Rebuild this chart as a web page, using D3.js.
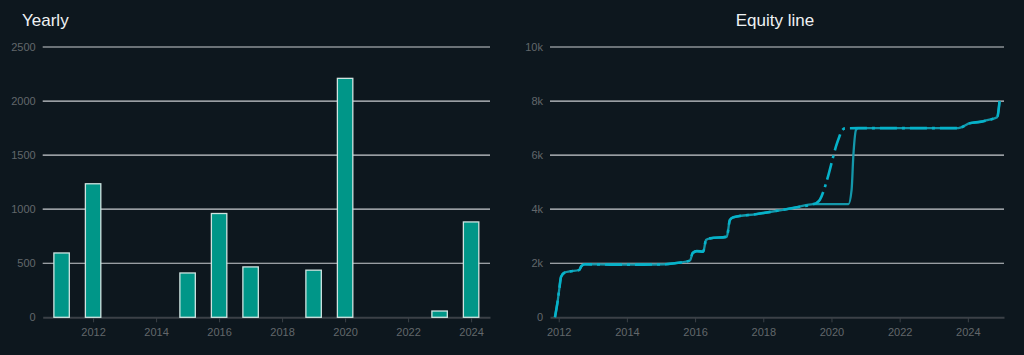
<!DOCTYPE html>
<html>
<head>
<meta charset="utf-8">
<script src="https://cdn.jsdelivr.net/npm/d3@7"></script>
<style>
  html, body { margin: 0; padding: 0; background: #0d171e; }
  svg { display: block; font-family: "Liberation Sans", Arial, sans-serif; }
</style>
</head>
<body>
<svg id="chart" width="1024" height="355"></svg>
<script>
// ---- Yearly bar chart data ----
const barYears = [2011, 2012, 2015, 2016, 2017, 2019, 2020, 2023, 2024];
const barValues = [595, 1235, 410, 960, 466, 436, 2210, 58, 882];
const barYTicks = [0, 500, 1000, 1500, 2000, 2500];
const barXTicks = [2012, 2014, 2016, 2018, 2020, 2022, 2024];

// ---- Equity line data (decimal year, value) ----
const solidDates = [2011.89, 2011.97, 2012.02, 2012.07, 2012.18, 2012.33, 2012.60, 2012.67, 2012.77, 2013.5, 2014.5, 2015.1, 2015.4, 2015.85, 2015.93, 2016.05, 2016.24, 2016.32, 2016.44, 2016.93, 2017.02, 2017.12, 2017.81, 2018.98, 2019.47, 2020.50, 2020.59, 2020.64, 2020.72, 2020.79, 2021.5, 2022.5, 2023.72, 2024.06, 2024.35, 2024.60, 2024.86, 2024.93];
const solidValues = [0, 600, 1070, 1500, 1660, 1700, 1750, 1900, 1960, 1950, 1950, 1960, 2000, 2100, 2380, 2450, 2430, 2860, 2920, 2980, 3600, 3700, 3820, 4070, 4190, 4190, 4710, 5940, 6930, 7000, 7000, 7000, 7000, 7180, 7230, 7300, 7400, 8000];
const dashDates = [2011.89, 2011.97, 2012.02, 2012.07, 2012.18, 2012.33, 2012.60, 2012.67, 2012.77, 2013.5, 2014.5, 2015.1, 2015.4, 2015.85, 2015.93, 2016.05, 2016.24, 2016.32, 2016.44, 2016.93, 2017.02, 2017.12, 2017.81, 2018.98, 2019.47, 2019.57, 2019.66, 2019.81, 2019.91, 2020.05, 2020.13, 2020.23, 2020.30, 2020.40, 2020.79, 2021.5, 2022.5, 2023.72, 2024.06, 2024.35, 2024.60, 2024.86, 2024.93];
const dashValues = [0, 600, 1070, 1500, 1660, 1700, 1750, 1900, 1960, 1950, 1950, 1960, 2000, 2100, 2380, 2450, 2430, 2860, 2920, 2980, 3600, 3700, 3820, 4070, 4190, 4240, 4350, 4830, 5260, 5940, 6310, 6680, 6900, 6990, 7000, 7000, 7000, 7000, 7180, 7230, 7300, 7400, 8000];
const eqYTicks = [0, 2000, 4000, 6000, 8000, 10000];
const eqXTicks = [2012, 2014, 2016, 2018, 2020, 2022, 2024];

const svg = d3.select("#chart");
const gridColor = "#c9cdd0";
const zeroColor = "#3b4147";
const tickTextColor = "#62676b";

// ================= LEFT: Yearly =================
const xL = d3.scaleLinear().domain([2010.4, 2024.6]).range([42.7, 490]);
const yL = d3.scaleLinear().domain([0, 2500]).range([317.3, 47]);

svg.append("text").attr("x", 22).attr("y", 26).attr("fill", "#eef1f3")
  .attr("font-size", 17).text("Yearly");

const gL = svg.append("g");
gL.selectAll("line.grid").data(barYTicks.filter(d => d > 0)).join("line")
  .attr("x1", xL.range()[0]).attr("x2", xL.range()[1])
  .attr("y1", d => yL(d)).attr("y2", d => yL(d))
  .attr("stroke", gridColor).attr("stroke-width", 1.2);

const axL = gL.append("g").attr("transform", `translate(0,${yL(0)})`)
  .call(d3.axisBottom(xL).tickValues(barXTicks).tickFormat(d3.format("d")).tickSize(5).tickSizeOuter(0));
axL.select(".domain").attr("stroke", zeroColor).attr("stroke-width", 2);
axL.selectAll(".tick line").attr("stroke", zeroColor);
axL.selectAll(".tick text").attr("fill", tickTextColor).attr("font-size", 11).attr("dy", "1.0em")
  .attr("font-family", "Liberation Sans, Arial, sans-serif");

const ayL = gL.append("g").attr("transform", `translate(${xL.range()[0]},0)`)
  .call(d3.axisLeft(yL).tickValues(barYTicks).tickFormat(d3.format("d")).tickSize(0).tickPadding(7));
ayL.select(".domain").remove();
ayL.selectAll(".tick text").attr("fill", tickTextColor).attr("font-size", 11)
  .attr("font-family", "Liberation Sans, Arial, sans-serif");

const barW = xL(2011.49) - xL(2011);
gL.selectAll("rect.bar").data(barYears.map((y, i) => ({year: y, value: barValues[i]}))).join("rect")
  .attr("x", d => xL(d.year) - barW / 2)
  .attr("width", barW)
  .attr("y", d => yL(d.value))
  .attr("height", d => yL(0) - yL(d.value))
  .attr("fill", "#009688")
  .attr("stroke", "#cfe3e0")
  .attr("stroke-width", 1.3);

// ================= RIGHT: Equity line =================
const xR = d3.scaleLinear().domain([2011.745, 2025.06]).range([550, 1004]);
const yR = d3.scaleLinear().domain([0, 10000]).range([317.3, 47]);

svg.append("text").attr("x", 775).attr("y", 26).attr("fill", "#eef1f3")
  .attr("font-size", 17).attr("text-anchor", "middle").text("Equity line");

const gR = svg.append("g");
gR.selectAll("line.grid").data(eqYTicks.filter(d => d > 0)).join("line")
  .attr("x1", xR.range()[0]).attr("x2", xR.range()[1])
  .attr("y1", d => yR(d)).attr("y2", d => yR(d))
  .attr("stroke", gridColor).attr("stroke-width", 1.2);

const axR = gR.append("g").attr("transform", `translate(0,${yR(0)})`)
  .call(d3.axisBottom(xR).tickValues(eqXTicks).tickFormat(d3.format("d")).tickSize(5).tickSizeOuter(0));
axR.select(".domain").attr("stroke", zeroColor).attr("stroke-width", 2);
axR.selectAll(".tick line").attr("stroke", zeroColor);
axR.selectAll(".tick text").attr("fill", tickTextColor).attr("font-size", 11).attr("dy", "1.0em")
  .attr("font-family", "Liberation Sans, Arial, sans-serif");

const ayR = gR.append("g").attr("transform", `translate(${xR.range()[0]},0)`)
  .call(d3.axisLeft(yR).tickValues(eqYTicks).tickFormat(d => d === 0 ? "0" : (d / 1000) + "k").tickSize(0).tickPadding(7));
ayR.select(".domain").remove();
ayR.selectAll(".tick text").attr("fill", tickTextColor).attr("font-size", 11)
  .attr("font-family", "Liberation Sans, Arial, sans-serif");

const lineGen = d3.line().x(d => xR(d[0])).y(d => yR(d[1])).curve(d3.curveMonotoneX);
const solidData = solidDates.map((d, i) => [d, solidValues[i]]);
const dashData = dashDates.map((d, i) => [d, dashValues[i]]);

gR.append("path").datum(solidData).attr("d", lineGen)
  .attr("fill", "none").attr("stroke", "#1497aa").attr("stroke-width", 2.3)
  .attr("stroke-linejoin", "round");
gR.append("path").datum(dashData).attr("d", lineGen)
  .attr("fill", "none").attr("stroke", "#06b2c9").attr("stroke-width", 2.6)
  .attr("stroke-dasharray", "17,5,3,5").attr("stroke-linejoin", "round");
</script>
</body>
</html>
